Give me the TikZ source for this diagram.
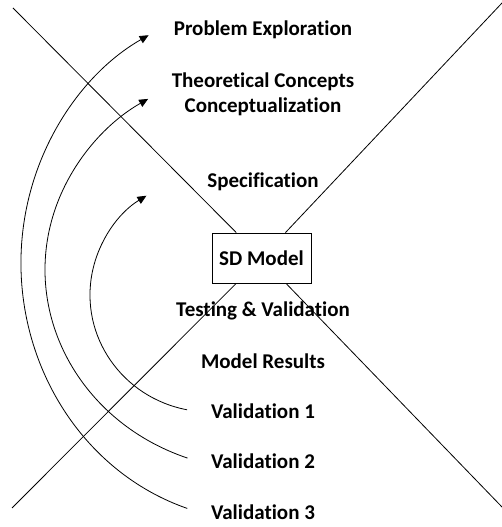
\documentclass[tikz,border=0pt]{standalone}
\usepackage{fontspec}
\setmainfont{Carlito}[Ligatures=NoCommon]
\usetikzlibrary{arrows.meta}

\begin{document}
\begin{tikzpicture}[x=1bp, y=1bp, line width=0.8bp,
    txt/.style={font=\fontsize{21bp}{25bp}\selectfont\bfseries},
    lbl/.style={txt, anchor=base, inner sep=0pt},
    model/.style={txt, draw, minimum width=99bp, minimum height=50bp, inner sep=0pt},
    flow/.style={-{Triangle[length=9bp,width=8bp]}}]
    \useasboundingbox (0,0) rectangle (502,527);

    \node[model] (sd) at (261.5,269) {SD Model};

    \coordinate (ul) at (13,519);
    \coordinate (ur) at (502,524);
    \coordinate (ll) at (12,19);
    \coordinate (lr) at (502,20);
    \foreach \c in {ul, ur, ll, lr} {
      \draw (\c) -- (sd);
    }

    \node[lbl] (explore) at (263,491) {Problem Exploration};
    \node[lbl] (theory) at (263,439) {Theoretical Concepts};
    \node[lbl] (concept) at (263,414) {Conceptualization};
    \node[lbl] (spec) at (263,339) {Specification};
    \node[lbl] (test) at (263,210.3) {Testing \& Validation};
    \node[lbl] (results) at (263,158.7) {Model Results};
    \foreach [count=\i] \y in {108.7, 58.7, 7} {
      \node[lbl] (val\i) at (263,\y) {Validation \i};
    }

    \coordinate (v1) at (187.1,117.2);
    \coordinate (v2) at (187.5,68.9);
    \coordinate (v3) at (187.2,18.6);
    \draw[flow] (v1) arc[start angle=259, end angle=122, x radius=120bp, y radius=117bp];
    \draw[flow] (v2) arc[start angle=250, end angle=121.6, x radius=216.5bp, y radius=200.5bp];
    \draw[flow] (v3) arc[start angle=252, end angle=118, x radius=240.5bp, y radius=258bp];
\end{tikzpicture}
\end{document}
